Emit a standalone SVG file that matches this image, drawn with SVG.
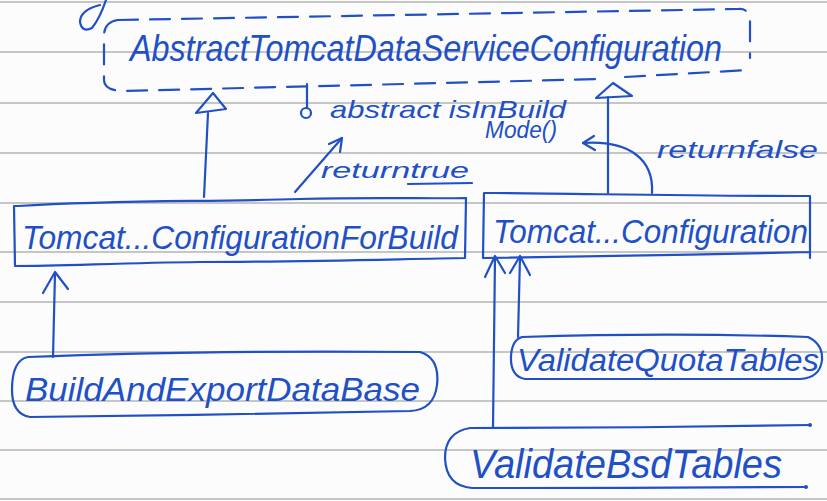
<svg xmlns="http://www.w3.org/2000/svg" width="827" height="501" viewBox="0 0 827 501">
  <style>
    .rule { stroke: #b4b4b4; stroke-width: 1.6; fill: none; }
    .ink { stroke: #2150c6; stroke-width: 2.2; fill: none; stroke-linecap: round; stroke-linejoin: round; }
    .dash { stroke-dasharray: 20 12; }
    .hw { font-family: "Liberation Sans", "DejaVu Sans", sans-serif; font-style: italic; fill: #2150c6; }
  </style>
  <rect x="0" y="0" width="827" height="501" fill="#fcfcfc"/>
  <g id="paper">
    <line class="rule" x1="0" y1="2" x2="827" y2="2"/>
    <line class="rule" x1="0" y1="52" x2="827" y2="52"/>
    <line class="rule" x1="0" y1="103" x2="827" y2="103"/>
    <line class="rule" x1="0" y1="153" x2="827" y2="153"/>
    <line class="rule" x1="0" y1="203" x2="827" y2="203"/>
    <line class="rule" x1="0" y1="252" x2="827" y2="252"/>
    <line class="rule" x1="0" y1="302" x2="827" y2="302"/>
    <line class="rule" x1="0" y1="352" x2="827" y2="352"/>
    <line class="rule" x1="0" y1="401" x2="827" y2="401"/>
    <line class="rule" x1="0" y1="450" x2="827" y2="450"/>
    <line class="rule" x1="0" y1="499" x2="827" y2="499"/>
    <path class="ink" d="M106,0 Q100,18 92,28 Q82,33 80,22 Q80,10 100,5"/>
  </g>

  <g id="node-abstract">
    <path class="ink dash" d="M118,20 Q104,22 104,36 L104,80 Q104,91 125,91 L600,79 M625,77 L748,70"/>
    <path class="ink dash" d="M118,20 L738,9 Q750,8 750,22 L750,58"/>
    <text class="hw" x="130" y="61" font-size="36" textLength="592" lengthAdjust="spacingAndGlyphs">AbstractTomcatDataServiceConfiguration</text>
  </g>

  <g id="node-forbuild">
    <path class="ink" d="M18,206 C120,200 200,202 300,199 C380,197 430,199 466,198 L465,258 C400,259 300,262 200,262 C120,263 60,266 15,266 L14,206 Z"/>
    <text class="hw" x="22" y="249" font-size="33" textLength="436" lengthAdjust="spacingAndGlyphs">Tomcat...ConfigurationForBuild</text>
  </g>

  <g id="node-config">
    <path class="ink" d="M493,193 L484,193 L483,258 C600,256 700,255 810,252 M493,193 C600,194 700,196 810,196 L810,258"/>
    <text class="hw" x="493" y="243" font-size="33" textLength="315" lengthAdjust="spacingAndGlyphs">Tomcat...Configuration</text>
  </g>

  <g id="node-build-export">
    <path class="ink" d="M28,357 C150,352 300,351 420,352 Q440,358 437,385 Q434,410 410,411 C300,413 150,416 30,417 Q12,414 12,390 Q12,360 28,357 Z"/>
    <text class="hw" x="25" y="401" font-size="33" textLength="395" lengthAdjust="spacingAndGlyphs">BuildAndExportDataBase</text>
  </g>

  <g id="node-validate-quota">
    <path class="ink" d="M522,337 C620,334 720,334 808,337 Q823,344 822,360 Q820,378 800,379 C700,379 600,379 525,379 Q510,376 511,356 Q512,340 522,337 Z"/>
    <text class="hw" x="517" y="371" font-size="31" textLength="302" lengthAdjust="spacingAndGlyphs">ValidateQuotaTables</text>
  </g>

  <g id="node-validate-bsd">
    <path class="ink" d="M810,425 C700,427 580,428 470,428 Q445,432 445,458 Q446,486 472,488 C580,488 700,488 806,487"/>
    <circle cx="810" cy="425" r="2" fill="#2150c6"/>
    <circle cx="806" cy="487" r="2" fill="#2150c6"/>
    <text class="hw" x="470" y="478" font-size="40" textLength="312" lengthAdjust="spacingAndGlyphs">ValidateBsdTables</text>
  </g>

  <g id="connectors">
    <path class="ink" d="M204,197 L208,113"/>
    <path class="ink" d="M213,93 L196,113 L226,109 Z"/>
    <path class="ink" d="M608,193 L608,97"/>
    <path class="ink" d="M613,83 L596,98 L632,96 Z"/>
    <path class="ink" d="M53,357 L55,273"/>
    <path class="ink" d="M43,293 L55,272 L68,289"/>
    <path class="ink" d="M493,428 L495,257"/>
    <path class="ink" d="M485,277 L495,256 L505,273"/>
    <path class="ink" d="M518,337 L520,257"/>
    <path class="ink" d="M510,273 L520,256 L530,275"/>
  </g>

  <g id="notes">
    <path class="ink" d="M307,84 L307,108"/>
    <circle class="ink" cx="306" cy="113" r="5"/>
    <text class="hw" x="330" y="118" font-size="24" textLength="236" lengthAdjust="spacingAndGlyphs">abstract isInBuild</text>
    <text class="hw" x="485" y="138" font-size="24" textLength="72" lengthAdjust="spacingAndGlyphs">Mode()</text>
    <path class="ink" d="M295,192 L342,138"/>
    <path class="ink" d="M329,144 L342,138 L340,152"/>
    <text class="hw" x="321" y="178" font-size="22" textLength="148" lengthAdjust="spacingAndGlyphs">returntrue</text>
    <path class="ink" d="M408,184 L472,183"/>
    <path class="ink" d="M652,193 C654,160 630,140 583,143"/>
    <path class="ink" d="M594,136 L583,143 L595,150"/>
    <text class="hw" x="657" y="158" font-size="24" textLength="161" lengthAdjust="spacingAndGlyphs">returnfalse</text>
  </g>
</svg>
